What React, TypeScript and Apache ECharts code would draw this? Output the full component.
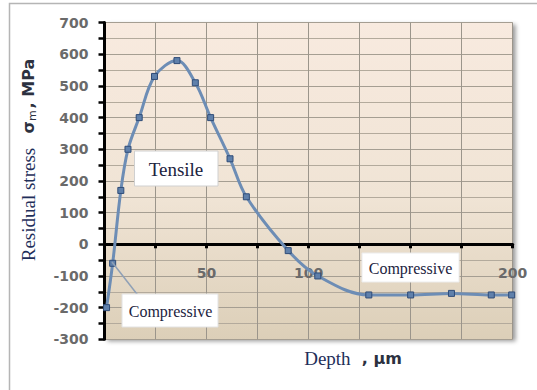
import React, { useEffect, useRef } from "react";
import * as echarts from "echarts";

const depth = [1, 4, 8, 11.5, 17, 24.5, 35.5, 44.5, 52, 61.5, 69.5, 90, 104.5, 129.5, 150, 170, 189.5, 199.5];
const stress = [-200, -60, 170, 300, 400, 530, 580, 510, 400, 270, 150, -20, -100, -160, -160, -155, -160, -160];
const xLabels = [50, 100, 200];

export default function App() {
  const ref = useRef<HTMLDivElement>(null);
  useEffect(() => {
    if (!ref.current) return;
    const chart = echarts.init(ref.current, null, { renderer: "svg" });
    const data = depth.map((d, i) => [d, stress[i]]);
    chart.setOption({
      animation: false,
      backgroundColor: "#ffffff",
      grid: {
        show: true,
        left: 104.5,
        right: 24.3,
        top: 22.6,
        bottom: 50.7,
        borderWidth: 0,
        backgroundColor: new echarts.graphic.LinearGradient(0, 0, 0, 1, [
          { offset: 0, color: "#f8eadf" },
          { offset: 0.55, color: "#f0e4d5" },
          { offset: 1, color: "#dccfb8" },
        ]),
        shadowColor: "rgba(0,0,0,0.4)",
        shadowBlur: 4,
        shadowOffsetX: 3,
        shadowOffsetY: 2,
      },
      xAxis: {
        type: "value",
        min: 0,
        max: 200,
        interval: 25,
        axisLine: { show: true, onZero: true, lineStyle: { color: "#000", width: 3 } },
        axisTick: { show: true, length: 4, lineStyle: { color: "#000", width: 3 } },
        axisLabel: {
          margin: -73,
          fontFamily: "DejaVu Sans",
          fontWeight: "bold",
          fontSize: 14,
          color: "#6a6a6a",
          formatter: (v: number) => (xLabels.includes(v) ? String(v) : ""),
        },
        splitLine: { show: true, lineStyle: { color: "#9b958b", width: 1 } },
      },
      yAxis: {
        type: "value",
        min: -300,
        max: 700,
        interval: 100,
        axisLine: { show: true, lineStyle: { color: "#000", width: 3 } },
        axisTick: { show: true, length: 6, lineStyle: { color: "#000", width: 2.5 } },
        minorTick: { show: true, splitNumber: 2, length: 6, lineStyle: { color: "#000", width: 2.5 } },
        axisLabel: {
          margin: 16,
          fontFamily: "DejaVu Sans",
          fontWeight: "bold",
          fontSize: 14,
          color: "#6a6a6a",
        },
        splitLine: { show: true, lineStyle: { color: "#a59e92", width: 1 } },
        minorSplitLine: { show: true, lineStyle: { color: "#b3aa9c", width: 1 } },
      },
      series: [
        {
          type: "line",
          data,
          smooth: 0.35,
          symbol: "rect",
          symbolSize: 6,
          lineStyle: { color: "#6d8db5", width: 3 },
          itemStyle: { color: "#5f80ab", borderColor: "#2f4c78", borderWidth: 1 },
          z: 3,
        },
      ],
      graphic: [
        {
          type: "rect",
          shape: { x: 9.5, y: 3.5, width: 700, height: 600 },
          style: { fill: "none", stroke: "#b5b5b5", lineWidth: 1.5 },
          z: 100,
        },
        {
          type: "line",
          shape: { x1: 137.7, y1: 295, x2: 112, y2: 262 },
          style: { stroke: "#8fa0b6", lineWidth: 1.5 },
          z: 100,
        },
        {
          type: "rect",
          shape: { x: 134.5, y: 151, width: 83.5, height: 35 },
          style: { fill: "#ffffff", stroke: "#d0d0d0", lineWidth: 1 },
          z: 101,
        },
        {
          type: "text",
          x: 176,
          y: 169,
          style: {
            text: "Tensile",
            fontFamily: "Liberation Serif",
            fontSize: 19,
            fill: "#1c2340",
            align: "center",
            verticalAlign: "middle",
          },
          z: 102,
        },
        {
          type: "rect",
          shape: { x: 122, y: 294, width: 96, height: 33 },
          style: { fill: "#ffffff", stroke: "#e2e2e2", lineWidth: 1 },
          z: 101,
        },
        {
          type: "text",
          x: 170.5,
          y: 311,
          style: {
            text: "Compressive",
            fontFamily: "Liberation Serif",
            fontSize: 16,
            fill: "#1c2340",
            align: "center",
            verticalAlign: "middle",
          },
          z: 102,
        },
        {
          type: "rect",
          shape: { x: 362, y: 253, width: 97, height: 29 },
          style: { fill: "#ffffff", stroke: "#ececec", lineWidth: 1 },
          z: 101,
        },
        {
          type: "text",
          x: 410.5,
          y: 268,
          style: {
            text: "Compressive",
            fontFamily: "Liberation Serif",
            fontSize: 16,
            fill: "#1c2340",
            align: "center",
            verticalAlign: "middle",
          },
          z: 102,
        },
        {
          type: "text",
          x: 28,
          y: 160,
          rotation: Math.PI / 2,
          style: {
            text: "{a|Residual stress}{s|   }{b|σ}{c|m}{b|, MPa}",
            align: "center",
            verticalAlign: "middle",
            rich: {
              a: { fontFamily: "Liberation Serif", fontSize: 19, fill: "#1f2f5a", verticalAlign: "bottom" },
              s: { fontFamily: "Liberation Serif", fontSize: 19 },
              b: { fontFamily: "DejaVu Sans", fontWeight: "bold", fontSize: 16, fill: "#2c3140" },
              c: { fontFamily: "DejaVu Sans", fontSize: 11, fill: "#2c3140", padding: [8, 2, 0, 0] },
            },
          },
          z: 102,
        },
        {
          type: "text",
          x: 353,
          y: 358,
          style: {
            text: "{a|Depth}{b|  , µm}",
            align: "center",
            verticalAlign: "middle",
            rich: {
              a: { fontFamily: "Liberation Serif", fontSize: 19, fill: "#1f2f5a" },
              b: { fontFamily: "DejaVu Sans", fontWeight: "bold", fontSize: 16, fill: "#2c3140" },
            },
          },
          z: 102,
        },
      ],
    });
    return () => chart.dispose();
  }, []);
  return (
    <div
      ref={ref}
      style={{ position: "fixed", left: 0, top: 0, width: 537, height: 390 }}
    />
  );
}
